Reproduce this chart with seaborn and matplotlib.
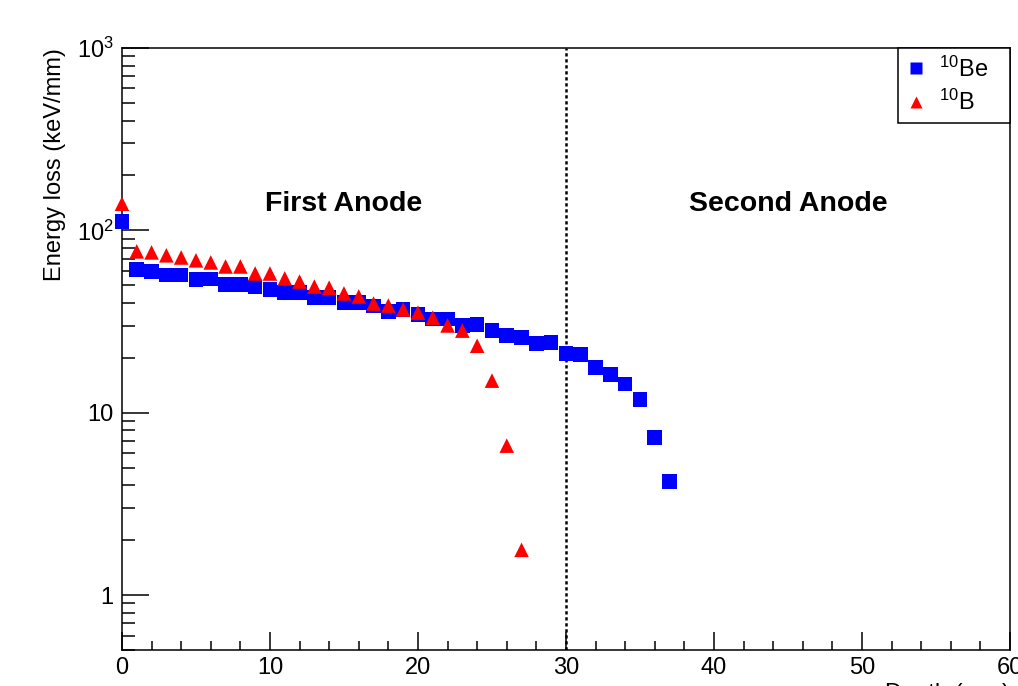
import pandas as pd
import matplotlib
matplotlib.use('Agg')
import matplotlib.pyplot as plt
import matplotlib.ticker as mticker
import seaborn as sns

# -----------------------------------------------------------
# data (energy loss per mm vs depth)
# -----------------------------------------------------------
depth_be = list(range(0, 38))
eloss_be = [112, 61, 59.6, 57, 57, 53.9, 54, 50.5, 50.5, 49,
            47.4, 45.6, 45.6, 42.8, 42.8, 40.2, 40.2, 38.5, 35.9, 36.8,
            34.5, 32.6, 32.6, 30.0, 30.5, 28.2, 26.5, 25.8, 23.9, 24.2,
            21.1, 20.8, 17.7, 16.2, 14.4, 11.8, 7.3, 4.2]

depth_b = list(range(0, 28))
eloss_b = [140, 76.7, 75.7, 73, 71, 68.5, 66.7, 63.4, 63.4, 58,
           58, 54.5, 52.4, 49.2, 48.5, 45.1, 43.4, 39.7, 38.7, 36.8,
           35.4, 33.2, 30.1, 28.2, 23.3, 15.0, 6.6, 1.77]

labels = [r'$^{10}$Be', r'$^{10}$B']
region_names = ['First Anode', 'Second Anode']
region_x = [15, 45]
boundary = 30

df = pd.concat([
    pd.DataFrame({'depth': depth_be, 'eloss': eloss_be, 'ion': labels[0]}),
    pd.DataFrame({'depth': depth_b, 'eloss': eloss_b, 'ion': labels[1]}),
])

# -----------------------------------------------------------
# style (ROOT-like)
# -----------------------------------------------------------
plt.rcParams['font.family'] = ['Liberation Sans', 'DejaVu Sans']
plt.rcParams['mathtext.default'] = 'regular'

fig = plt.figure(figsize=(10.18, 6.86), dpi=100)
ax = fig.add_axes([0.1198, 0.0525, 0.8723, 0.8775])

sns.scatterplot(data=df, x='depth', y='eloss', hue='ion', style='ion',
                markers={labels[0]: 's', labels[1]: '^'},
                palette={labels[0]: '#0000ff', labels[1]: '#ff0000'},
                s=110, edgecolor='none', ax=ax, zorder=3, clip_on=False)

ax.axvline(boundary, color='black', linestyle=(0, (1.3, 1.1)), lw=1.8, zorder=2)

for name, xpos in zip(region_names, region_x):
    ax.text(xpos, 140, name, ha='center', va='center',
            fontsize=20.5, fontweight='bold')

ax.set_yscale('log')
ax.set_xlim(0, 60)
ax.set_ylim(0.5, 1000)

ax.yaxis.set_major_locator(mticker.FixedLocator([1, 10, 100, 1000]))
ax.yaxis.set_major_formatter(mticker.FixedFormatter(['1', '10', '$10^{2}$', '$10^{3}$']))
ax.yaxis.set_minor_locator(mticker.LogLocator(base=10, subs=range(2, 10)))
ax.yaxis.set_minor_formatter(mticker.NullFormatter())
ax.xaxis.set_major_locator(mticker.MultipleLocator(10))
ax.xaxis.set_minor_locator(mticker.MultipleLocator(2))

ax.tick_params(axis='y', which='major', direction='in', length=19.5, width=1.1, labelsize=17, pad=6)
ax.tick_params(axis='y', which='minor', direction='in', length=9.7, width=1.1)
ax.tick_params(axis='x', which='major', direction='in', length=13, width=1.1, labelsize=17, pad=5)
ax.tick_params(axis='x', which='minor', direction='in', length=6.5, width=1.1)
for sp in ax.spines.values():
    sp.set_linewidth(1.1)

ax.set_ylabel('Energy loss (keV/mm)', fontsize=17, loc='top', labelpad=8)
ax.set_xlabel('')
fig.text(0.992, 0.004, 'Depth (mm)', ha='right', va='top', fontsize=17)

# legend box spans the same width as the ROOT one (extra room on the right)
leg = ax.legend(loc='upper right', bbox_to_anchor=(0.874, 0, 0.126, 1.0),
                mode='expand', borderaxespad=0, fontsize=17, title=None,
                fancybox=False, edgecolor='black', framealpha=1,
                handlelength=0.8, handletextpad=0.6, borderpad=0.35,
                labelspacing=0.35, markerscale=0.8)
leg.get_frame().set_linewidth(1.1)

fig.savefig('out.png', dpi=100)
